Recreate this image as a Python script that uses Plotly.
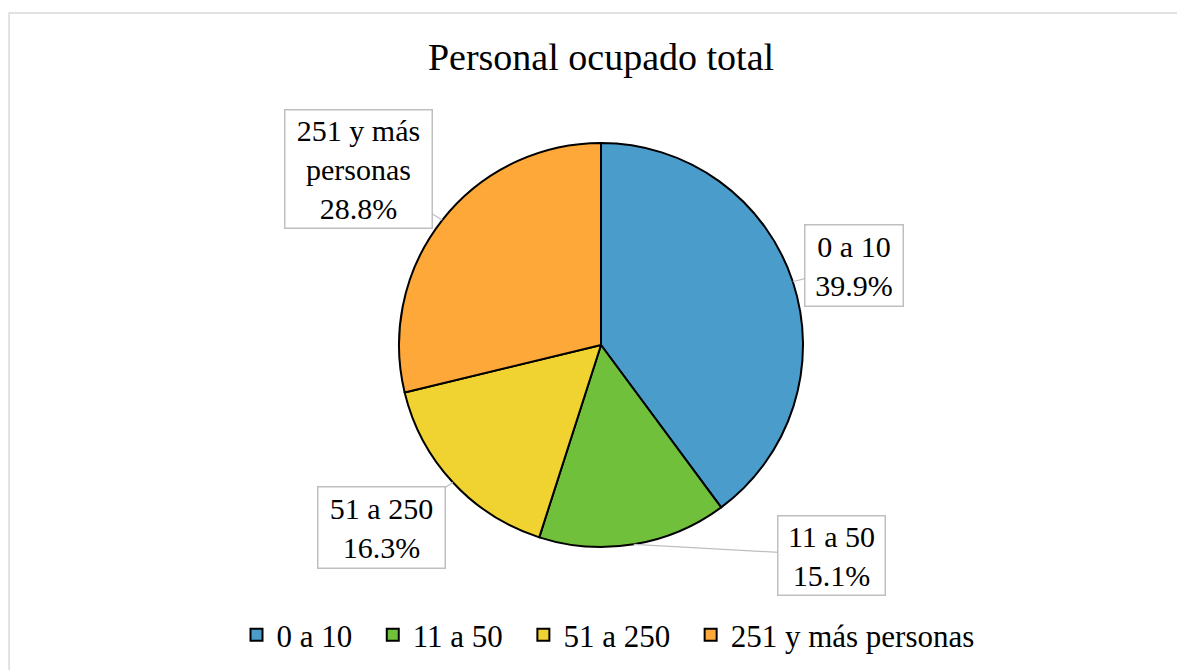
import math
import plotly.graph_objects as go

# data
categories = ["0 a 10", "11 a 50", "51 a 250", "251 y más personas"]
box_labels = ["0 a 10", "11 a 50", "51 a 250", "251 y más<br>personas"]
shares = [39.9, 15.1, 16.3, 28.8]
colors = ["#4A9CCB", "#71C03B", "#F0D230", "#FFA83A"]

# figure size; the page body adds an 8px margin, so shift everything back by it
W, H = 1185, 670
OFF = 8
cx, cy, r = 601 - OFF, 345 - OFF, 202

# legend entries get a little trailing room so the items spread like the original
legend_names = [c + "\u00a0\u00a0" for c in categories[:-1]] + [categories[-1]]

fig = go.Figure(go.Pie(
    labels=legend_names,
    values=shares,
    sort=False,
    direction="clockwise",
    rotation=0,
    textinfo="none",
    hoverinfo="label+percent",
    marker=dict(colors=colors, line=dict(color="black", width=2)),
    domain=dict(x=[(cx - r) / W, (cx + r) / W], y=[(H - cy - r) / H, (H - cy + r) / H]),
))

# callout boxes: offset of box centre from slice mid point on the rim, and inner box size
offsets = [(61, -16), (198, 11), (-71, 45), (-84, -51)]
box_sizes = [(85, 68), (94, 66), (114, 68), (134, 105)]

total = sum(shares)
cum = 0
for lab, val, (ox, oy), (bw, bh) in zip(box_labels, shares, offsets, box_sizes):
    mid = (cum + val / 2) / total * 2 * math.pi
    cum += val
    px = cx + r * math.sin(mid)
    py = cy - r * math.cos(mid)
    fig.add_annotation(
        x=px / W, y=1 - py / H, xref="paper", yref="paper",
        ax=ox, ay=oy, axref="pixel", ayref="pixel",
        text=f"{lab}<br>{val:.1f}%",
        width=bw, height=bh, valign="middle",
        showarrow=True, arrowhead=0, arrowwidth=1.2, arrowcolor="#BFBFBF",
        bordercolor="#BFBFBF", borderwidth=1.5, borderpad=6, bgcolor="white",
        font=dict(family="Liberation Serif", size=30, color="black"),
        align="center",
    )

# outer chart border
fig.add_shape(type="rect", xref="paper", yref="paper",
              x0=(2 - OFF) / W + 0.006, x1=1.02, y0=-0.02, y1=1 - (13 - OFF) / H,
              line=dict(color="#D9D9D9", width=1.5))

fig.update_layout(
    width=W, height=H,
    margin=dict(l=0, r=0, t=0, b=0),
    paper_bgcolor="white",
    font=dict(family="Liberation Serif", size=30, color="black"),
    title=dict(text="Personal ocupado total", x=(601 - OFF) / W, xanchor="center",
               y=1 - (57 - OFF) / H, yanchor="middle",
               font=dict(family="Liberation Serif", size=38, color="black")),
    showlegend=True,
    legend=dict(orientation="h", x=(608 - OFF) / W, xanchor="center",
                y=1 - (635 - OFF) / H, yanchor="middle",
                font=dict(family="Liberation Serif", size=31, color="black"),
                itemwidth=30, tracegroupgap=0),
)

fig.write_html("out.html")
